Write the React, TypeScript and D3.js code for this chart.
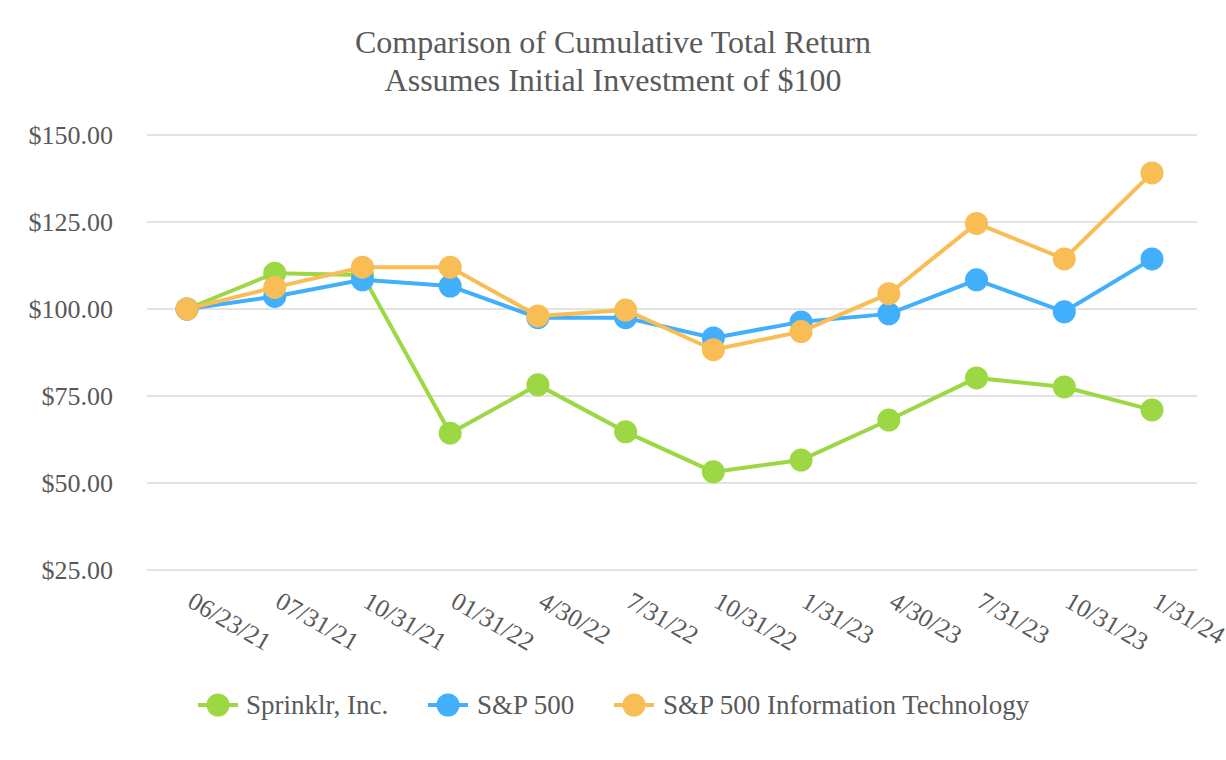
import * as d3 from "d3";

const categories = [
  "06/23/21", "07/31/21", "10/31/21", "01/31/22", "4/30/22", "7/31/22",
  "10/31/22", "1/31/23", "4/30/23", "7/31/23", "10/31/23", "1/31/24",
];

const sprinklr = [100, 110.3, 109.8, 64.3, 78.2, 64.7, 53.2, 56.6, 68.1, 80.2, 77.6, 71.0];
const sp500 = [100, 103.6, 108.4, 106.6, 97.5, 97.5, 91.7, 96.3, 98.6, 108.4, 99.2, 114.4];
const spIT = [100, 106.2, 112.0, 112.0, 98.0, 99.7, 88.3, 93.5, 104.4, 124.6, 114.4, 139.1];

const yTicks = [25, 50, 75, 100, 125, 150];

const seriesList = [
  { name: "Sprinklr, Inc.", values: sprinklr, color: "#9cd843" },
  { name: "S&P 500", values: sp500, color: "#41affc" },
  { name: "S&P 500 Information Technology", values: spIT, color: "#f9bd55" },
];

const W = 1226;
const H = 760;
const font = '"Liberation Serif", "DejaVu Serif", serif';
const textColor = "#595959";

export default function App() {
  const x = d3.scalePoint<string>().domain(categories).range([187, 1152]);
  const y = d3.scaleLinear().domain([25, 150]).range([570, 135]);

  const line = d3
    .line<number>()
    .x((_, i) => x(categories[i]) ?? 0)
    .y((d) => y(d));

  // legend item positions (marker centre x, text x)
  const legend = [
    { cx: 218, tx: 246 },
    { cx: 448, tx: 477 },
    { cx: 634, tx: 663 },
  ];

  return (
    <svg
      width={W}
      height={H}
      style={{ position: "absolute", left: 0, top: 0, background: "#fff", fontFamily: font }}
    >
      {/* Title */}
      <text x={613} y={53} textAnchor="middle" fontSize={32} fill={textColor}>
        Comparison of Cumulative Total Return
      </text>
      <text x={613} y={91} textAnchor="middle" fontSize={32} fill={textColor}>
        Assumes Initial Investment of $100
      </text>

      {/* Grid + y labels */}
      {yTicks.map((t) => (
        <g key={t}>
          <line x1={147} x2={1197} y1={y(t)} y2={y(t)} stroke="#e3e3e3" strokeWidth={2} />
          <text
            x={113}
            y={y(t)}
            dy="0.35em"
            textAnchor="end"
            fontSize={26}
            fill={textColor}
          >
            {d3.format("$.2f")(t)}
          </text>
        </g>
      ))}

      {/* X labels */}
      {categories.map((c) => (
        <text
          key={c}
          transform={`translate(${(x(c) ?? 0) - 1},606) rotate(30)`}
          fontSize={25.5}
          fill={textColor}
        >
          {c}
        </text>
      ))}

      {/* Series */}
      {seriesList.map((s) => (
        <g key={s.name}>
          <path d={line(s.values) ?? ""} fill="none" stroke={s.color} strokeWidth={4} />
          {s.values.map((v, i) => (
            <circle key={i} cx={x(categories[i])} cy={y(v)} r={11.5} fill={s.color} />
          ))}
        </g>
      ))}

      {/* Legend */}
      {seriesList.map((s, i) => (
        <g key={s.name}>
          <line
            x1={legend[i].cx - 20}
            x2={legend[i].cx + 20}
            y1={705}
            y2={705}
            stroke={s.color}
            strokeWidth={4}
          />
          <circle cx={legend[i].cx} cy={705} r={11.5} fill={s.color} />
          <text x={legend[i].tx} y={705} dy="0.35em" fontSize={27} fill={textColor}>
            {s.name}
          </text>
        </g>
      ))}
    </svg>
  );
}
